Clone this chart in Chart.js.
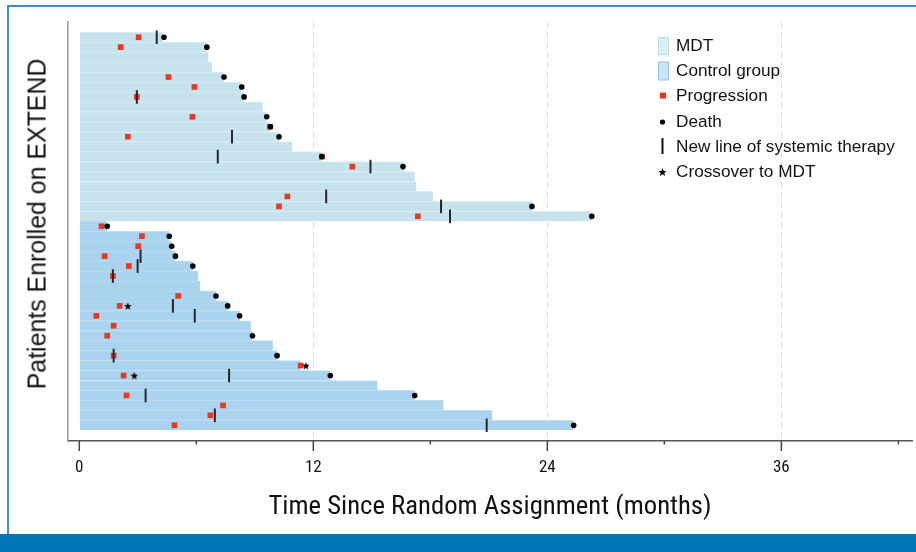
<!DOCTYPE html>
<html>
<head>
<meta charset="utf-8">
<script src="https://cdn.jsdelivr.net/npm/chart.js@4.4.1/dist/chart.umd.min.js"></script>
<style>
  body { margin: 0; background: #fff; }
  #wrap { position: relative; width: 916px; height: 552px; overflow: hidden; background: #fff; }
  #frame { position: absolute; left: 7px; top: 5px; width: 920px; height: 527px; border-top: 2px solid #3a8fd2; border-left: 2px solid #3a8fd2; }
  #band { position: absolute; left: 0; right: 0; bottom: 0; height: 18px; background: #0074b4; }
  canvas { position: absolute; left: 0; top: 0; }
  #ytitle { position: absolute; left: 37px; top: 224px; transform: translate(-50%, -50%) rotate(-90deg); white-space: nowrap;
            font-family: 'Liberation Sans', Arial, sans-serif; font-size: 24.9px; color: #111; line-height: 1; }
  #legend { position: absolute; left: 652px; top: 33px; font-family: 'Liberation Sans', Arial, sans-serif; font-size: 17.2px; color: #111; }
  .item { position: relative; height: 25.2px; line-height: 25.2px; padding-left: 24px; white-space: nowrap; }
  .item svg { position: absolute; left: 0; top: 0; }
</style>
</head>
<body>
<div id="wrap">
  <div id="frame"></div>
  <div id="band"></div>
  <canvas id="myChart" width="916" height="552"></canvas>
  <div id="ytitle">Patients Enrolled on EXTEND</div>
  <div id="legend"></div>
</div>
<script>
// follow-up per patient (months), top to bottom
const mdtFollowUp = [4.3, 6.53, 6.62, 6.81, 7.4, 8.33, 8.45, 9.4, 9.6, 9.78, 10.24, 10.93, 12.46, 16.64, 17.2, 17.28, 18.14, 23.21, 26.28];
const controlFollowUp = [1.43, 4.61, 4.74, 4.93, 5.82, 6.1, 6.2, 7.01, 7.61, 8.22, 8.79, 8.88, 9.92, 10.14, 11.35, 12.87, 15.29, 17.2, 18.67, 21.18, 25.35];

// events as [row within group, month]
const mdtProgression = [[1, 3.04], [2, 2.12], [5, 4.57], [6, 5.9], [7, 2.95], [9, 5.8], [10, 9.78], [11, 2.49], [13, 12.44], [14, 14.0], [17, 10.67], [18, 10.24], [19, 17.36]];
const mdtDeath = [[1, 4.34], [2, 6.54], [5, 7.42], [6, 8.33], [7, 8.45], [9, 9.61], [10, 9.8], [11, 10.24], [13, 12.44], [14, 16.6], [18, 23.21], [19, 26.28]];
const mdtNewLine = [[1, 3.97], [7, 2.95], [11, 7.83], [13, 7.1], [14, 14.93], [17, 12.66], [18, 18.55], [19, 19.01]];

const controlProgression = [[1, 1.14], [2, 3.21], [3, 3.02], [4, 1.3], [5, 2.54], [6, 1.72], [8, 5.07], [9, 2.07], [10, 0.87], [11, 1.76], [12, 1.43], [14, 1.76], [15, 11.35], [16, 2.27], [18, 2.42], [19, 7.37], [20, 6.72], [21, 4.88]];
const controlDeath = [[1, 1.43], [2, 4.61], [3, 4.74], [4, 4.93], [5, 5.82], [8, 7.01], [9, 7.61], [10, 8.22], [12, 8.88], [14, 10.14], [16, 12.87], [18, 17.2], [21, 25.35]];
const controlNewLine = [[4, 3.14], [5, 2.99], [6, 1.72], [9, 4.8], [10, 5.92], [14, 1.76], [16, 7.68], [18, 3.4], [20, 6.95], [21, 20.89]];
const controlCrossover = [[9, 2.49], [15, 11.62], [16, 2.82]];

const xTicks = [0, 6, 12, 18, 24, 30, 36, 42];
const legendLabels = ['MDT', 'Control group', 'Progression', 'Death', 'New line of systemic therapy', 'Crossover to MDT'];

const narrow = "'Liberation Sans Narrow', 'Arial Narrow', 'Roboto Condensed', sans-serif";
const offset = mdtFollowUp.length;

function toPoints(events, shift) {
  return events.map(e => ({x: e[1], y: e[0] + shift}));
}

function makeStar(size, color) {
  const c = document.createElement('canvas');
  c.width = c.height = size;
  const g = c.getContext('2d');
  g.fillStyle = color;
  g.beginPath();
  for (let i = 0; i < 10; i++) {
    const r = i % 2 ? size * 0.21 : size * 0.5;
    const a = -Math.PI / 2 + i * Math.PI / 5;
    g.lineTo(size / 2 + r * Math.cos(a), size / 2 + r * Math.sin(a) + size * 0.06);
  }
  g.closePath();
  g.fill();
  return c;
}

// small tick marks under the x axis, long every 12 months
const tickMarks = {
  id: 'tickMarks',
  afterDraw(chart) {
    const sx = chart.scales.x;
    const ctx = chart.ctx;
    const y0 = chart.chartArea.bottom;
    ctx.save();
    ctx.strokeStyle = '#444';
    ctx.lineWidth = 1.5;
    sx.ticks.forEach(t => {
      const px = sx.getPixelForValue(t.value);
      const len = t.value % 12 === 0 ? 10 : 3.5;
      ctx.beginPath();
      ctx.moveTo(px, y0);
      ctx.lineTo(px, y0 + len);
      ctx.stroke();
    });
    ctx.restore();
  }
};

const barBase = {
  type: 'bar',
  indexAxis: 'y',
  barPercentage: 1,
  categoryPercentage: 1,
  grouped: false,
  borderSkipped: false,
  borderWidth: {top: 1, right: 0, bottom: 0, left: 0}
};

const ctx = document.getElementById('myChart');
const chart = new Chart(ctx, {
  type: 'bar',
  data: {
    datasets: [
      Object.assign({}, barBase, {
        label: 'MDT',
        data: mdtFollowUp.map((t, i) => ({x: [0, t], y: i + 1})),
        backgroundColor: '#c6e3ed',
        borderColor: '#d9edf3',
        order: 5
      }),
      Object.assign({}, barBase, {
        label: 'Control group',
        data: controlFollowUp.map((t, i) => ({x: [0, t], y: i + 1 + offset})),
        backgroundColor: '#a9d3ee',
        borderColor: '#bddcf1',
        order: 5
      }),
      {
        type: 'scatter',
        label: 'Progression',
        data: toPoints(mdtProgression, 0).concat(toPoints(controlProgression, offset)),
        pointStyle: 'rect',
        pointRadius: 4,
        backgroundColor: '#e8391e',
        borderWidth: 0,
        order: 3
      },
      {
        type: 'scatter',
        label: 'New line of systemic therapy',
        data: toPoints(mdtNewLine, 0).concat(toPoints(controlNewLine, offset)),
        pointStyle: 'line',
        pointRotation: 90,
        pointRadius: 6.8,
        borderColor: '#262626',
        borderWidth: 2,
        order: 2
      },
      {
        type: 'scatter',
        label: 'Death',
        data: toPoints(mdtDeath, 0).concat(toPoints(controlDeath, offset)),
        pointStyle: 'circle',
        pointRadius: 2.8,
        backgroundColor: '#000',
        borderWidth: 0,
        order: 1
      },
      {
        type: 'scatter',
        label: 'Crossover to MDT',
        data: toPoints(controlCrossover, offset),
        pointStyle: makeStar(8, '#000'),
        order: 0
      }
    ]
  },
  options: {
    indexAxis: 'y',
    responsive: false,
    animation: false,
    events: [],
    layout: {autoPadding: false, padding: {top: 22, right: 4, bottom: 0, left: 0}},
    plugins: {legend: {display: false}, tooltip: {enabled: false}},
    scales: {
      x: {
        type: 'linear',
        offset: false,
        min: -0.58,
        max: 42.7,
        afterBuildTicks: s => { s.ticks = xTicks.map(v => ({value: v})); },
        afterFit: s => { s.height = 111; },
        grid: {
          offset: false,
          drawTicks: false,
          color: c => (c.tick && c.tick.value % 12 === 0 && c.tick.value > 0) ? '#dedede' : 'rgba(0,0,0,0)',
          lineWidth: 1
        },
        border: {display: true, color: '#555', width: 1.5, dash: [6, 4]},
        ticks: {
          padding: 17,
          maxRotation: 0,
          autoSkip: false,
          color: '#111',
          font: {family: narrow, size: 17},
          callback: v => v % 12 === 0 ? v : ''
        },
        title: {
          display: true,
          text: 'Time Since Random Assignment (months)',
          color: '#111',
          font: {family: narrow, size: 26.7},
          padding: {top: 29, bottom: 29}
        }
      },
      y: {
        type: 'linear',
        offset: false,
        reverse: true,
        min: -0.53,
        max: 41.58,
        afterFit: s => { s.width = 68; },
        grid: {offset: false, display: true, drawTicks: false, color: 'rgba(0,0,0,0)'},
        border: {display: true, color: '#999', width: 1.5},
        ticks: {display: false}
      }
    }
  },
  plugins: [tickMarks]
});

// legend in the top right corner of the plot
const markers = [
  '<svg width="20" height="25"><rect x="6.5" y="4.5" width="10" height="17" fill="#ddeff6" stroke="#b7dde9"/></svg>',
  '<svg width="20" height="25"><rect x="6.5" y="4" width="10" height="18" fill="#cce5f6" stroke="#8fc5ea"/></svg>',
  '<svg width="20" height="25"><rect x="8" y="9.6" width="6" height="6" fill="#e8391e"/></svg>',
  '<svg width="20" height="25"><circle cx="10.5" cy="13" r="2.6" fill="#000"/></svg>',
  '<svg width="20" height="25"><line x1="10.5" y1="4" x2="10.5" y2="20" stroke="#111" stroke-width="2"/></svg>',
  '<svg width="20" height="25"><polygon points="10.5,9 11.6,12 14.6,12.2 12.3,14 13.1,17 10.5,15.2 7.9,17 8.7,14 6.4,12.2 9.4,12" fill="#000"/></svg>'
];
document.getElementById('legend').innerHTML = legendLabels
  .map((l, i) => '<div class="item">' + markers[i] + l + '</div>').join('');
</script>
</body>
</html>
